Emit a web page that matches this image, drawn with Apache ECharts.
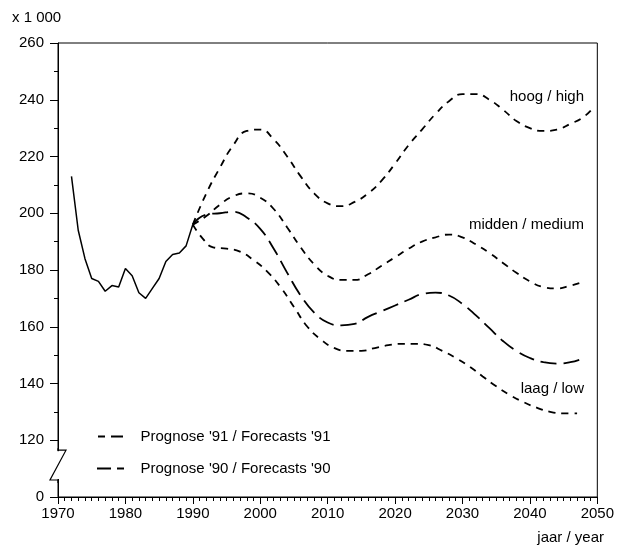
<!DOCTYPE html>
<html>
<head>
<meta charset="utf-8">
<script src="https://cdn.jsdelivr.net/npm/echarts@6/dist/echarts.min.js"></script>
<style>
  html, body { margin: 0; padding: 0; background: #fff; }
  #chart { width: 617px; height: 553px; }
</style>
</head>
<body>
<div id="chart"></div>
<script>
// waarnemingen 1972-1990
const histYears = [1972, 1973, 1974, 1975, 1976, 1977, 1978, 1979, 1980, 1981, 1982, 1983, 1984, 1985, 1986, 1987, 1988, 1989, 1990];
const histValues = [213, 194, 184, 177, 176, 172.5, 174.5, 174, 180.5, 178, 172, 170, 173.5, 177, 183, 185.5, 186, 188.5, 196];

// prognose '91: hoog / midden / laag
const highYears = [1990, 1992, 1994, 1996, 1998, 2000, 2002, 2004, 2006, 2008, 2010, 2012, 2014, 2016, 2018, 2020, 2022, 2024, 2026, 2028, 2030, 2032, 2034, 2036, 2038, 2040, 2042, 2044, 2046, 2048, 2049.5];
const highValues = [196, 207, 216, 224, 229, 229.5, 226, 220, 213, 207, 203.5, 202.5, 204, 207, 211.5, 217.5, 224, 229.5, 235, 239.5, 242, 242, 240, 236.5, 232.5, 230, 229, 229.5, 231.5, 234, 237.5];

const midYears = [1990, 1992, 1994, 1996, 1998, 2000, 2002, 2004, 2006, 2008, 2010, 2012, 2014, 2016, 2018, 2020, 2022, 2024, 2026, 2028, 2030, 2032, 2034, 2036, 2038, 2040, 2042, 2044, 2046, 2047.5];
const midValues = [196, 199, 203, 206, 207, 205.5, 201.5, 195, 188, 182, 178, 176.5, 176.5, 178.5, 181.5, 184.5, 187.5, 190, 191.5, 192.5, 191.5, 189, 186, 182.5, 179, 176, 174, 173.5, 174.5, 175.5];

const lowYears = [1990, 1991.5, 1993, 1995, 1997, 1999, 2001, 2003, 2005, 2007, 2009, 2011, 2013, 2015, 2017, 2019, 2021, 2023, 2025, 2027, 2029, 2031, 2033, 2035, 2037, 2039, 2041, 2043, 2045, 2047];
const lowValues = [196, 191, 188, 187.5, 186.5, 183.5, 179.5, 174, 167, 160, 155.5, 152.5, 151.5, 151.5, 152.5, 153.5, 154, 154, 153.5, 151.5, 149, 146, 142.5, 139, 136, 133.5, 131.5, 130, 129.5, 129.5];

// prognose '90
const old90Years = [1990, 1992, 1994, 1996, 1998, 2000, 2002, 2004, 2006, 2008, 2010, 2012, 2014, 2016, 2018, 2020, 2022, 2024, 2026, 2028, 2030, 2032, 2034, 2036, 2038, 2040, 2042, 2044, 2046, 2047.5];
const old90Values = [196, 199.5, 200, 200.5, 198.5, 194.5, 187.5, 179, 171, 165, 161.5, 160.5, 161, 163.5, 165.5, 167.5, 169.5, 171.5, 172, 171, 168, 164, 159.5, 155, 151.5, 149, 147.5, 147, 147.5, 148.5];

const yTicks = [100, 120, 140, 160, 180, 200, 220, 240, 260];
const name91 = "Prognose '91 / Forecasts '91";
const name90 = "Prognose '90 / Forecasts '90";

const FONT = '"Liberation Sans", Arial, sans-serif';
const pairs = (xs, ys) => xs.map((x, i) => [x, ys[i]]);

const chart = echarts.init(document.getElementById('chart'));

const dash91 = { color: '#000', width: 1.8, type: [7, 6] };
const dash90 = { color: '#000', width: 1.8, type: [16, 7] };

const option = {
  animation: false,
  backgroundColor: '#fff',
  grid: {
    left: 58, right: 18, top: 43, bottom: 56,
    show: true, borderColor: '#000', borderWidth: 1
  },
  legend: {
    data: [
      { name: name91, icon: 'path://M0,0h7v2h-7z M13,0h12v2h-12z' },
      { name: name90, icon: 'path://M0,0h14v2h-14z M20,0h7v2h-7z' }
    ],
    orient: 'vertical',
    left: 92, top: 424,
    itemWidth: 30, itemHeight: 2, itemGap: 17,
    itemStyle: { color: '#000' },
    textStyle: { color: '#000', fontSize: 15, fontFamily: FONT, padding: [0, 0, 0, 10] }
  },
  xAxis: {
    type: 'value', min: 1970, max: 2050, interval: 10,
    axisLine: { lineStyle: { color: '#000', width: 1 } },
    axisTick: { length: 7, lineStyle: { color: '#000' } },
    minorTick: { show: true, splitNumber: 10, length: 4, lineStyle: { color: '#000' } },
    splitLine: { show: false },
    axisLabel: { color: '#000', fontSize: 15, fontFamily: FONT, margin: 9, formatter: v => String(v) }
  },
  yAxis: {
    type: 'value', min: 100, max: 260, interval: 20,
    axisLine: { show: true, lineStyle: { color: '#000', width: 1 } },
    axisTick: { show: true, length: 8, lineStyle: { color: '#000' } },
    minorTick: { show: true, splitNumber: 2, length: 4, lineStyle: { color: '#000' } },
    splitLine: { show: false },
    axisLabel: {
      color: '#000', fontSize: 15, fontFamily: FONT, margin: 14,
      formatter: v => (v === yTicks[0] ? '0' : String(v))
    }
  },
  series: [
    {
      name: 'waarneming', type: 'line', data: pairs(histYears, histValues),
      symbol: 'none', lineStyle: { color: '#000', width: 1.5 }, z: 3
    },
    {
      name: name91, type: 'line', data: pairs(highYears, highValues), smooth: true,
      symbol: 'none', itemStyle: { color: '#000' }, lineStyle: dash91
    },
    {
      name: name91, type: 'line', data: pairs(midYears, midValues), smooth: true,
      symbol: 'none', itemStyle: { color: '#000' }, lineStyle: dash91
    },
    {
      name: name91, type: 'line', data: pairs(lowYears, lowValues), smooth: true,
      symbol: 'none', itemStyle: { color: '#000' }, lineStyle: dash91
    },
    {
      name: name90, type: 'line', data: pairs(old90Years, old90Values), smooth: true,
      symbol: 'none', itemStyle: { color: '#000' }, lineStyle: dash90
    }
  ]
};
chart.setOption(option);

// asbreuk tussen 0 en 120 + losse teksten
const axX = chart.convertToPixel({ xAxisIndex: 0 }, 1970);
const yTop = chart.convertToPixel({ yAxisIndex: 0 }, 116.5);
const yBot = chart.convertToPixel({ yAxisIndex: 0 }, 106);
const txt = (x, y, s, align) => ({
  type: 'text', z: 100,
  style: { x: x, y: y, text: s, font: '15px ' + FONT, fill: '#000', textAlign: align || 'left', textVerticalAlign: 'middle' }
});
chart.setOption({
  graphic: [
    { type: 'rect', z: 99, shape: { x: axX - 12, y: yTop + 1, width: 20, height: yBot - yTop - 2 }, style: { fill: '#fff' } },
    {
      type: 'polyline', z: 100,
      shape: { points: [[axX, yTop - 2], [axX, yTop], [axX + 8, yTop], [axX - 8, yBot], [axX, yBot], [axX, yBot + 3]] },
      style: { stroke: '#000', lineWidth: 1.2, fill: null }
    },
    txt(12, 18, 'x 1 000'),
    txt(584, 97, 'hoog / high', 'right'),
    txt(584, 225, 'midden / medium', 'right'),
    txt(584, 389, 'laag / low', 'right'),
    txt(604, 538, 'jaar / year', 'right')
  ]
});
</script>
</body>
</html>
